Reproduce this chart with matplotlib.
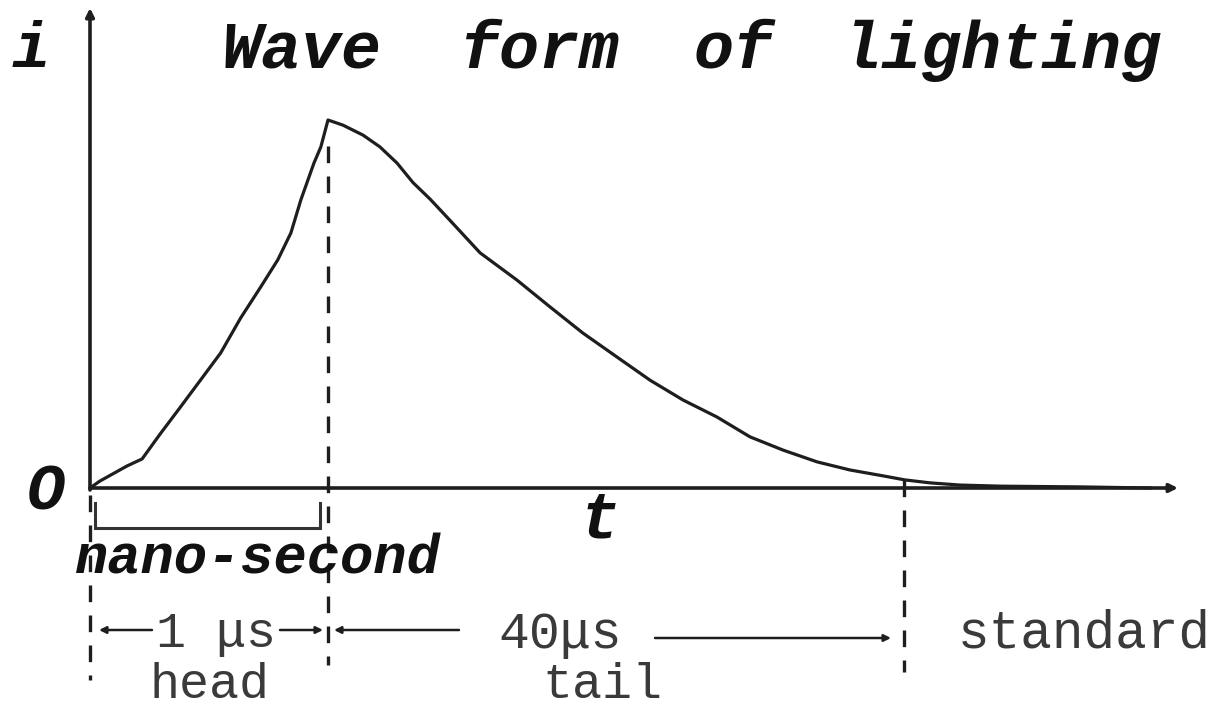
import matplotlib
matplotlib.use("Agg")
import matplotlib.pyplot as plt

# Lightning current wave form: time (peak at t = 1) and current (peak = 1)
t_wave = [0.0, 0.042, 0.156, 0.219, 0.295, 0.380, 0.464, 0.549, 0.633, 0.717,
          0.789, 0.844, 0.886, 0.941, 0.970, 1.0, 1.063, 1.147, 1.218, 1.290,
          1.357, 1.429, 1.500, 1.639, 1.794, 1.933, 2.071, 2.214, 2.353, 2.492,
          2.634, 2.773, 2.912, 3.055, 3.193, 3.332, 3.424, 3.529, 3.655, 3.824,
          4.160, 4.454]
i_wave = [0.0, 0.019, 0.060, 0.079, 0.147, 0.220, 0.293, 0.367, 0.462, 0.546,
          0.620, 0.693, 0.783, 0.883, 0.927, 1.0, 0.986, 0.959, 0.927, 0.883,
          0.830, 0.785, 0.736, 0.639, 0.565, 0.492, 0.421, 0.356, 0.293, 0.239,
          0.193, 0.139, 0.103, 0.071, 0.049, 0.033, 0.022, 0.014, 0.008, 0.005,
          0.003, 0.0]

# Time markers: start, end of head (peak), end of tail (standard)
t_start = 0.0
t_head_end = 1.0
t_tail_end = 3.42

title_words = ["Wave", "form", "of", "lighting"]
head_label = "1 μs"
tail_label = "40μs"
head_name = "head"
tail_name = "tail"
standard_name = "standard"
rise_name = "nano-second"

X0, Y0, SX, SY = 90.0, 488.0, 238.0, 368.0
W, H = 1227, 707


def tx(x):
    """Layout helper: canvas pixel column -> time coordinate."""
    return (x - X0) / SX


def iy(y):
    """Layout helper: canvas pixel row -> current coordinate."""
    return (Y0 - y) / SY


fig = plt.figure(figsize=(W / 100, H / 100), dpi=100)
ax = fig.add_axes([0, 0, 1, 1])
ax.set_xlim(tx(0), tx(W))
ax.set_ylim(iy(H), iy(0))
ax.axis("off")

ink = "#1e1e1e"
soft = "#3a3a3a"
mono = "Liberation Mono"

# axes with arrow heads
ax.annotate("", xy=(t_start, iy(8)), xytext=(t_start, iy(490)),
            arrowprops=dict(arrowstyle="-|>", lw=2.6, color=ink,
                            mutation_scale=12, shrinkA=0, shrinkB=0))
ax.annotate("", xy=(tx(1178), 0), xytext=(t_start, 0),
            arrowprops=dict(arrowstyle="-|>", lw=2.6, color=ink,
                            mutation_scale=12, shrinkA=0, shrinkB=0))

# wave form
ax.plot(t_wave, i_wave, color=ink, lw=2.3, solid_joinstyle="round")

# vertical dashed markers
dash = (0, (5, 4))
peak_i = max(i_wave)
ax.plot([t_start, t_start], [iy(495), iy(680)], color=ink, lw=2.4, linestyle=dash)
ax.plot([t_head_end, t_head_end], [peak_i * 0.93, iy(665)], color=ink, lw=2.4,
        linestyle=dash)
ax.plot([t_tail_end, t_tail_end], [iy(480), iy(672)], color=ink, lw=2.4,
        linestyle=dash)

# nano-second bracket
bx0, bx1 = tx(95), tx(320)
by0, by1 = iy(503), iy(528)
ax.plot([bx0, bx0, bx1, bx1], [by0, by1, by1, by0], color="#333333", lw=2.2,
        solid_joinstyle="miter")

# duration arrows
arr = dict(arrowstyle="-|>", lw=1.8, color=ink, mutation_scale=10,
           shrinkA=0, shrinkB=0)
ax.annotate("", xy=(tx(99), iy(630)), xytext=(tx(152), iy(630)), arrowprops=arr)
ax.annotate("", xy=(tx(323), iy(630)), xytext=(tx(280), iy(630)), arrowprops=arr)
ax.annotate("", xy=(tx(334), iy(630)), xytext=(tx(459), iy(630)), arrowprops=arr)
ax.annotate("", xy=(tx(891), iy(638)), xytext=(tx(655), iy(638)), arrowprops=arr)

# title
bold_it = dict(family=mono, weight="bold", style="italic", color="#111111")
for word, x in zip(title_words, [222, 460, 694, 842]):
    ax.text(tx(x), iy(68), word, fontsize=48, ha="left", va="baseline", **bold_it)

# axis symbols
ax.text(tx(31), iy(67), "i", fontsize=46, ha="center", va="baseline", **bold_it)
ax.text(tx(46), iy(509), "O", fontsize=46, ha="center", va="baseline", **bold_it)
ax.text(tx(600), iy(537), "t", fontsize=48, ha="center", va="baseline", **bold_it)
ax.text(tx(258), iy(574), rise_name, fontsize=40, ha="center", va="baseline",
        **bold_it)

# duration labels
reg = dict(family=mono, color=soft)
ax.text(tx(216), iy(647), head_label, fontsize=36, ha="center", va="baseline", **reg)
ax.text(tx(560), iy(648), tail_label, fontsize=37, ha="center", va="baseline", **reg)
ax.text(tx(1084), iy(648), standard_name, fontsize=38, ha="center", va="baseline",
        **reg)
ax.text(tx(210), iy(698), head_name, fontsize=36, ha="center", va="baseline", **reg)
ax.text(tx(602), iy(698), tail_name, fontsize=36, ha="center", va="baseline", **reg)

fig.savefig("out.png", dpi=100, facecolor="white")
